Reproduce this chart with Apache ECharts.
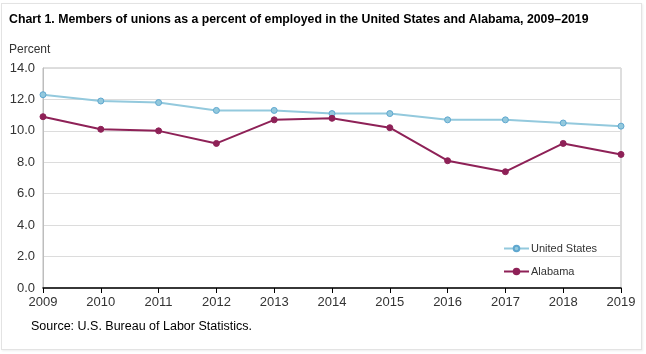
<!DOCTYPE html>
<html>
<head>
<meta charset="utf-8">
<script src="https://cdn.jsdelivr.net/npm/echarts@6/dist/echarts.min.js"></script>
<style>
html,body{margin:0;padding:0;background:#fff;}
#frame{position:absolute;left:1px;top:3px;width:639px;height:345px;border:1px solid #e3e3e3;box-shadow:1px 1px 2px #eee;}
#myChart{position:absolute;left:0;top:0;width:646px;height:354px;}
</style>
</head>
<body>
<div id="frame"></div>
<div id="myChart"></div>
<script>
var years = ['2009','2010','2011','2012','2013','2014','2015','2016','2017','2018','2019'];
var unitedStates = [12.3, 11.9, 11.8, 11.3, 11.3, 11.1, 11.1, 10.7, 10.7, 10.5, 10.3];
var alabama = [10.9, 10.1, 10.0, 9.2, 10.7, 10.8, 10.2, 8.1, 7.4, 9.2, 8.5];

var dom = document.getElementById("myChart");
var myChart = echarts.init(dom);
var option = {
    animation: false,
    textStyle: {fontFamily: 'Liberation Sans, Arial, sans-serif'},
    title: [{
        text: 'Chart 1. Members of unions as a percent of employed in the United States and Alabama, 2009\u20132019',
        left: 4, top: 9,
        textStyle: {fontSize: 12.3, fontWeight: 'bold', color: '#000'}
    }, {
        text: 'Percent',
        left: 4, top: 39,
        textStyle: {fontSize: 12, fontWeight: 'normal', color: '#333'}
    }, {
        text: 'Source: U.S. Bureau of Labor Statistics.',
        left: 26, top: 315,
        textStyle: {fontSize: 12.5, fontWeight: 'normal', color: '#000'}
    }],
    legend: {
        orient: 'vertical',
        left: 498,
        top: 238,
        itemWidth: 25,
        itemHeight: 7,
        itemGap: 12,
        textStyle: {fontSize: 11, color: '#333', padding: [0, 0, 0, -3]},
        data: ['United States', 'Alabama']
    },
    grid: {left: 43, right: 25, top: 68, bottom: 66, show: true, borderColor: '#bdbdbd', borderWidth: 1},
    xAxis: {
        type: 'category',
        boundaryGap: false,
        data: years,
        axisLine: {lineStyle: {color: '#000', width: 1.5}},
        axisTick: {show: true, length: 5, lineStyle: {color: '#000'}},
        axisLabel: {fontSize: 13, color: '#333', margin: 8}
    },
    yAxis: {
        type: 'value',
        min: 0, max: 14, interval: 2,
        axisLine: {show: true, lineStyle: {color: '#bdbdbd'}},
        axisTick: {show: false},
        axisLabel: {fontSize: 13, color: '#333', margin: 8, formatter: function (v) { return v.toFixed(1); }},
        splitLine: {lineStyle: {color: '#dcdcdc'}}
    },
    series: [{
        name: 'United States',
        type: 'line',
        data: unitedStates,
        symbol: 'circle',
        symbolSize: 6,
        lineStyle: {color: '#93c9dd', width: 2},
        itemStyle: {color: '#93c9dd', borderColor: '#5fa7cf', borderWidth: 1}
    }, {
        name: 'Alabama',
        type: 'line',
        data: alabama,
        symbol: 'circle',
        symbolSize: 6,
        lineStyle: {color: '#8e2157', width: 2},
        itemStyle: {color: '#8e2157', borderColor: '#8e2157', borderWidth: 1}
    }]
};
myChart.setOption(option, true);
window.addEventListener("resize", function () {
    myChart.resize();
});
</script>
</body>
</html>
